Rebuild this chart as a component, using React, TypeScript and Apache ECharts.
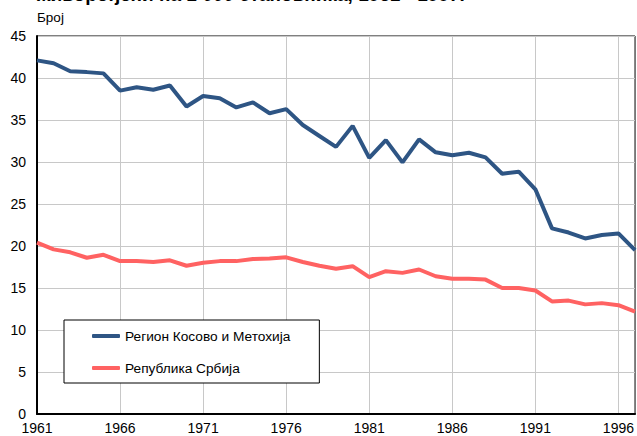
import React, { useEffect, useRef } from "react";
import * as echarts from "echarts";

const years = [
  "1961", "1962", "1963", "1964", "1965", "1966", "1967", "1968", "1969", "1970",
  "1971", "1972", "1973", "1974", "1975", "1976", "1977", "1978", "1979", "1980",
  "1981", "1982", "1983", "1984", "1985", "1986", "1987", "1988", "1989", "1990",
  "1991", "1992", "1993", "1994", "1995", "1996", "1997",
];

const kosovo = [
  42.1, 41.75, 40.8, 40.7, 40.55, 38.5, 38.9, 38.6, 39.1, 36.6,
  37.85, 37.6, 36.5, 37.1, 35.8, 36.3, 34.4, 33.1, 31.8, 34.3,
  30.5, 32.6, 29.95, 32.7, 31.15, 30.8, 31.1, 30.55, 28.6, 28.85,
  26.75, 22.1, 21.6, 20.9, 21.3, 21.5, 19.5,
];

const serbia = [
  20.4, 19.6, 19.25, 18.6, 18.95, 18.2, 18.2, 18.1, 18.3, 17.65,
  18.0, 18.2, 18.2, 18.45, 18.5, 18.65, 18.1, 17.65, 17.3, 17.6,
  16.3, 17.0, 16.8, 17.2, 16.4, 16.1, 16.1, 16.0, 15.0, 15.0,
  14.7, 13.4, 13.5, 13.05, 13.2, 12.95, 12.2,
];

const seriesNames = ["Регион Косово и Метохија", "Република Србија"];
const titleText = "живорођени на 1 000 становника, 1961 - 1997.";
const yAxisName = "Број";

const FONT = "'Liberation Sans', Arial, sans-serif";

export default function App() {
  const ref = useRef<HTMLDivElement>(null);
  useEffect(() => {
    if (!ref.current) return;
    const chart = echarts.init(ref.current, undefined, { renderer: "svg" });
    chart.setOption({
      animation: false,
      textStyle: { fontFamily: FONT },
      title: [
        {
          text: titleText,
          left: 37,
          top: -15,
          padding: 0,
          textStyle: { fontSize: 19, fontWeight: "bold", color: "#000", fontFamily: FONT },
        },
        {
          text: yAxisName,
          left: 37,
          top: 10,
          padding: 0,
          textStyle: { fontSize: 13.5, fontWeight: "normal", color: "#000", fontFamily: FONT },
        },
      ],
      grid: {
        left: 37,
        right: -2,
        top: 36,
        bottom: 22,
        show: true,
        borderColor: "#000",
        borderWidth: 1,
        containLabel: false,
      },
      legend: {
        orient: "vertical",
        left: 64,
        top: 320,
        padding: [9, 29, 8, 28],
        itemGap: 18,
        itemWidth: 28,
        itemHeight: 4,
        icon: "roundRect",
        borderColor: "#000",
        borderWidth: 1,
        backgroundColor: "#fff",
        textStyle: { fontSize: 13.7, color: "#000", fontFamily: FONT },
        data: seriesNames,
      },
      xAxis: {
        type: "category",
        data: years,
        boundaryGap: false,
        axisLine: { lineStyle: { color: "#000", width: 2 } },
        axisTick: { show: false },
        axisLabel: {
          interval: 4,
          color: "#000",
          fontSize: 14,
          margin: 7,
          fontFamily: FONT,
        },
        splitLine: { show: true, interval: 4, lineStyle: { color: "#c8c8c8", width: 1 } },
      },
      yAxis: {
        type: "value",
        min: 0,
        max: 45,
        interval: 5,
        axisLine: { show: true, lineStyle: { color: "#000", width: 2 } },
        axisTick: { show: false },
        axisLabel: { color: "#000", fontSize: 14, margin: 11, fontFamily: FONT },
        splitLine: { lineStyle: { color: "#c8c8c8", width: 1 } },
      },
      series: [
        {
          name: seriesNames[0],
          type: "line",
          data: kosovo,
          symbol: "none",
          lineStyle: { color: "#2e5584", width: 4 },
          itemStyle: { color: "#2e5584" },
        },
        {
          name: seriesNames[1],
          type: "line",
          data: serbia,
          symbol: "none",
          lineStyle: { color: "#ff6262", width: 4 },
          itemStyle: { color: "#ff6262" },
        },
      ],
    });
    return () => chart.dispose();
  }, []);
  return <div ref={ref} style={{ width: 637, height: 436, position: "fixed", left: 0, top: 0, background: "#fff" }} />;
}
